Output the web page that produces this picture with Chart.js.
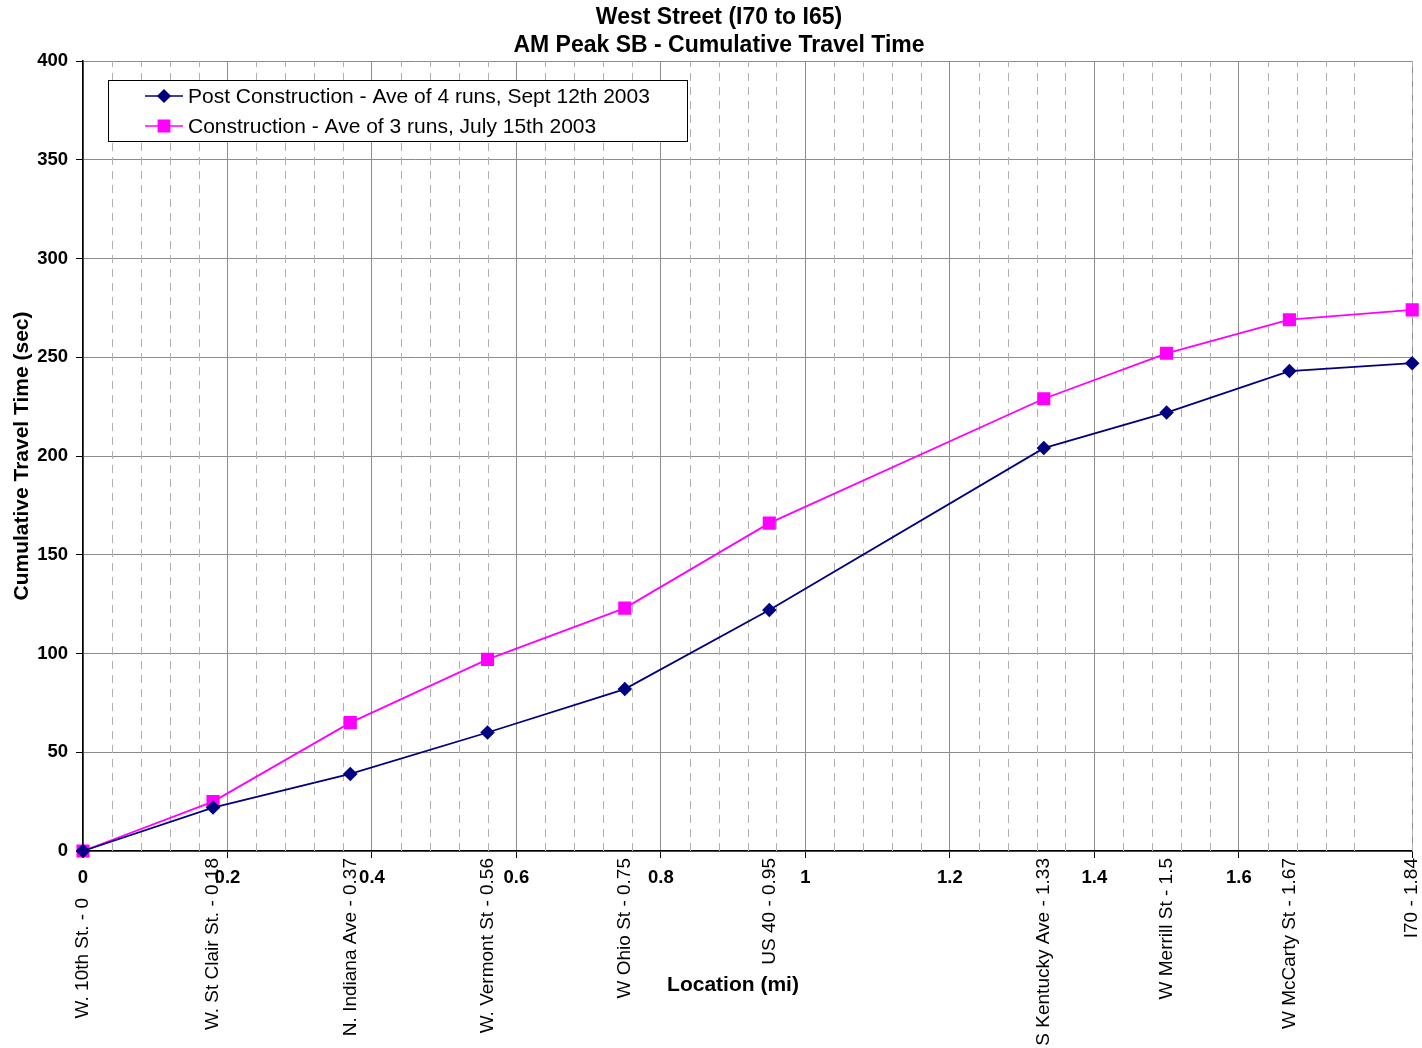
<!DOCTYPE html>
<html>
<head>
<meta charset="utf-8">
<script src="https://cdn.jsdelivr.net/npm/chart.js@4.4.1/dist/chart.umd.min.js"></script>
<style>
  html, body { margin: 0; padding: 0; background: #ffffff; }
  #wrap { width: 1422px; height: 1048px; position: relative; }
</style>
</head>
<body>
<div id="wrap"><canvas id="c" width="1422" height="1048"></canvas></div>
<script>
const titleLines = ['West Street (I70 to I65)', 'AM Peak SB - Cumulative Travel Time'];
const xAxisTitle = 'Location (mi)';
const yAxisTitle = 'Cumulative Travel Time (sec)';
const locations = [0, 0.18, 0.37, 0.56, 0.75, 0.95, 1.33, 1.5, 1.67, 1.84];
const locationNames = ['W. 10th St. - 0', 'W. St Clair St. - 0.18', 'N. Indiana Ave - 0.37', 'W. Vermont St - 0.56', 'W Ohio St - 0.75', 'US 40 - 0.95', 'S Kentucky Ave - 1.33', 'W Merrill St - 1.5', 'W McCarty St - 1.67', 'I70 - 1.84'];
const seriesNames = ['Post Construction - Ave of 4 runs, Sept 12th 2003', 'Construction - Ave of 3 runs, July 15th 2003'];
const postConstruction = [0, 22, 39, 60, 82, 122, 204, 222, 243, 247];
const construction = [0, 25, 65, 97, 123, 166, 229, 252, 269, 274];
const xMajorStep = 0.2;
const xMinorStep = 0.04;
const yStep = 50;
const xMax = 1.84;
const yMax = 400;

const FONT = 'Arial, "Liberation Sans", sans-serif';

const toPoints = (vals) => vals.map((v, i) => ({ x: locations[i], y: v }));

const decor = {
  id: 'decor',
  beforeDatasetsDraw(chart) {
    const { ctx, chartArea: a, scales: { x } } = chart;
    ctx.save();
    ctx.strokeStyle = '#b0b0b0';
    ctx.lineWidth = 1;
    ctx.setLineDash([8, 6]);
    const n = Math.round(xMax / xMinorStep);
    for (let i = 1; i <= n; i++) {
      if (i % 5 === 0) continue;
      const px = Math.round(x.getPixelForValue(i * xMinorStep)) + 0.5;
      ctx.beginPath();
      ctx.moveTo(px, a.bottom);
      ctx.lineTo(px, a.top);
      ctx.stroke();
    }
    ctx.restore();
  },
  afterDraw(chart) {
    const { ctx, chartArea: a, scales: { x } } = chart;
    ctx.save();
    ctx.fillStyle = '#000';
    // title
    ctx.font = 'bold 23px ' + FONT;
    ctx.textAlign = 'center';
    ctx.textBaseline = 'middle';
    ctx.fillText(titleLines[0], 719, 18);
    ctx.fillText(titleLines[1], 719, 46);
    // axis titles
    ctx.font = 'bold 21px ' + FONT;
    ctx.fillText(xAxisTitle, 733, 985);
    ctx.save();
    ctx.translate(22, (a.top + a.bottom) / 2);
    ctx.rotate(-Math.PI / 2);
    ctx.fillText(yAxisTitle, 0, 0);
    ctx.restore();
    // rotated location labels
    ctx.font = '19px ' + FONT;
    ctx.textAlign = 'right';
    locations.forEach((loc, i) => {
      const px = x.getPixelForValue(loc);
      const top = i === 0 ? a.bottom + 47 : a.bottom + 7;
      ctx.save();
      ctx.translate(px, top);
      ctx.rotate(-Math.PI / 2);
      ctx.fillText(locationNames[i], 0, 0);
      ctx.restore();
    });
    // legend
    const lx = 108, ly = 80, lw = 579, lh = 61;
    ctx.fillStyle = '#fff';
    ctx.fillRect(lx, ly, lw, lh);
    ctx.strokeStyle = '#000';
    ctx.lineWidth = 1;
    ctx.strokeRect(lx + 0.5, ly + 0.5, lw, lh);
    ctx.font = '21px ' + FONT;
    ctx.textAlign = 'left';
    chart.data.datasets.forEach((ds, i) => {
      const cy = ly + 16 + i * 30;
      ctx.strokeStyle = ds.borderColor;
      ctx.lineWidth = 1.5;
      ctx.beginPath();
      ctx.moveTo(145, cy);
      ctx.lineTo(183, cy);
      ctx.stroke();
      ctx.fillStyle = ds.pointBackgroundColor;
      ctx.strokeStyle = ds.pointBorderColor;
      Chart.helpers.drawPoint(ctx, {
        pointStyle: ds.pointStyle, rotation: 0, borderWidth: 1, radius: ds.pointRadius
      }, 164, cy);
      ctx.fillStyle = '#000';
      ctx.fillText(ds.label, 188, cy + 1);
    });
    ctx.restore();
  }
};

new Chart(document.getElementById('c'), {
  type: 'line',
  data: {
    datasets: [
      {
        label: seriesNames[0],
        data: toPoints(postConstruction),
        borderColor: '#000080',
        backgroundColor: '#000080',
        pointBackgroundColor: '#000080',
        pointBorderColor: '#000080',
        pointStyle: 'rectRot',
        pointRadius: 6,
        borderWidth: 1.8,
        tension: 0
      },
      {
        label: seriesNames[1],
        data: toPoints(construction),
        borderColor: '#ff00ff',
        backgroundColor: '#ff00ff',
        pointBackgroundColor: '#ff00ff',
        pointBorderColor: '#ff00ff',
        pointStyle: 'rect',
        pointRadius: 8,
        borderWidth: 1.8,
        tension: 0
      }
    ]
  },
  options: {
    responsive: false,
    animation: false,
    clip: false,
    layout: { padding: { top: 61, left: 0, right: 1, bottom: 0 } },
    plugins: {
      legend: { display: false },
      title: { display: false },
      tooltip: { enabled: false }
    },
    scales: {
      x: {
        type: 'linear',
        min: 0,
        max: xMax,
        afterFit(s) { s.height = 197; },
        ticks: {
          stepSize: xMajorStep,
          autoSkip: false,
          maxRotation: 0,
          padding: 9,
          color: '#000',
          font: { family: FONT, size: 18.5, weight: 'bold' },
          callback(v) {
            const r = Math.round(v * 100) / 100;
            if (Math.abs(r / xMajorStep - Math.round(r / xMajorStep)) > 1e-6) return '';
            return String(r);
          }
        },
        grid: { color: '#8c8c8c', lineWidth: 1, tickLength: 7, tickColor: '#000' },
        border: { color: '#000', width: 1.5 }
      },
      y: {
        min: 0,
        max: yMax,
        afterFit(s) { s.width = 83; },
        ticks: {
          stepSize: yStep,
          padding: 8,
          color: '#000',
          font: { family: FONT, size: 18.5, weight: 'bold' }
        },
        grid: { color: '#8c8c8c', lineWidth: 1, tickLength: 7, tickColor: '#000' },
        border: { color: '#000', width: 1.5 }
      }
    }
  },
  plugins: [decor]
});
</script>
</body>
</html>
